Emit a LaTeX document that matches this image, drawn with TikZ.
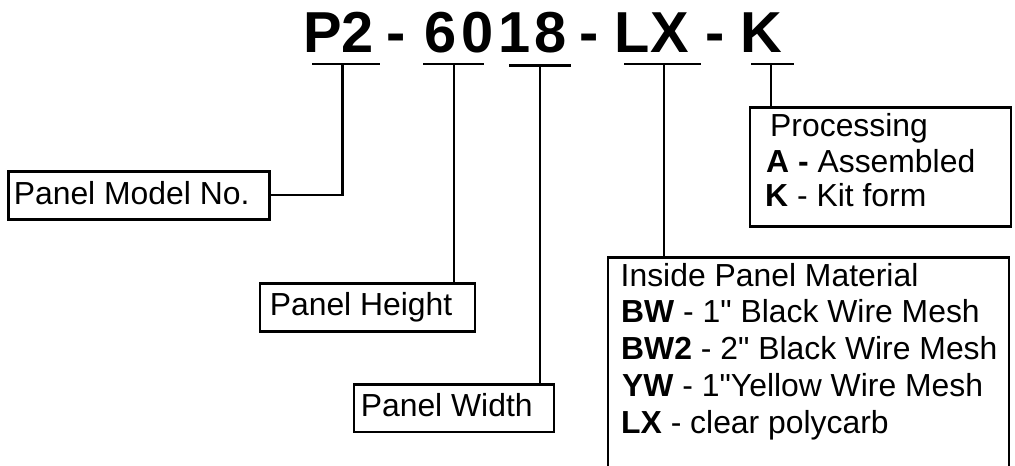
\documentclass[tikz,border=0pt]{standalone}
\usepackage{fontspec}
\setmainfont{Liberation Sans}
\begin{document}
\begin{tikzpicture}[x=1bp,y=-1bp,
  box/.style={draw, line width=2.8bp, inner sep=0, anchor=north west},
  conn/.style={line width=2.6bp},
  uline/.style={line width=2.4bp},
  big/.style={font=\fontsize{58}{60}\selectfont\bfseries, inner sep=0, anchor=base},
  txt/.style={font=\fontsize{32}{36}\selectfont, inner sep=0, anchor=base west}]
\useasboundingbox (0,0) rectangle (1015,466);

% title characters
\node[big] (cP) at (323,53) {P};
\node[big] (c2) at (358,53) {2};
\node[big] (d1) at (396,53) {-};
\node[big] (c6) at (441,53) {6};
\node[big] (c0) at (478,53) {0};
\node[big] (c1) at (515,53) {1};
\node[big] (c8) at (551,53) {8};
\node[big] (d2) at (589,53) {-};
\node[big] (cL) at (632,53) {L};
\node[big] (cX) at (670,53) {X};
\node[big] (d3) at (715,53) {-};
\node[big] (cK) at (761,53) {K};

% underlines
\coordinate (u1a) at (312,64); \coordinate (u1b) at (380,64);
\coordinate (u2a) at (423,64); \coordinate (u2b) at (484,64);
\coordinate (u3a) at (509,65.5); \coordinate (u3b) at (571,65.5);
\coordinate (u4a) at (624,64); \coordinate (u4b) at (701,64);
\coordinate (u5a) at (751,64); \coordinate (u5b) at (794,64);
\draw[uline] (u1a) -- (u1b);
\draw[uline] (u2a) -- (u2b);
\draw[uline] (u3a) -- (u3b);
\draw[uline] (u4a) -- (u4b);
\draw[uline] (u5a) -- (u5b);

% stem start points
\coordinate (s1) at (342.5,64);
\coordinate (s2) at (454,64);
\coordinate (s3) at (540,65.5);
\coordinate (s4) at (664,64);
\coordinate (s5) at (771,64);

% boxes
\node[box, minimum width=260.6bp, minimum height=48bp] (model) at (7.2,169.8) {};
\node[box, minimum width=215bp, minimum height=48bp] (hgt) at (258.5,282.5) {};
\node[box, minimum width=200bp, minimum height=47bp] (wid) at (352.5,383.5) {};
\node[box, minimum width=261bp, minimum height=119bp] (proc) at (748.5,106.5) {};
\node[box, minimum width=401bp, minimum height=230bp] (mat) at (606.5,256.5) {};

% connectors
\draw[conn] (s1) |- (model.east);
\draw[conn] (s2) -- (s2 |- hgt.north);
\draw[conn] (s3) -- (s3 |- wid.north);
\draw[conn] (s4) -- (s4 |- mat.north);
\draw[conn] (s5) -- (s5 |- proc.north);

% texts
\node[txt] (tmodel) at (13.6,205) {Panel Model No.};
\node[txt] (thgt) at (269.6,316) {Panel Height};
\node[txt] (twid) at (360.6,416) {Panel Width};

\node[txt] (tp0) at (770,137) {Processing};
\node[txt] (tp1) at (766,173) {\textbf{A -} Assembled};
\node[txt] (tp2) at (765,207) {\textbf{K} - Kit form};

\node[txt] (tm0) at (620.5,287) {Inside Panel Material};
\node[txt] (tm1) at (621,323) {\textbf{BW} - 1\textquotedbl{} Black Wire Mesh};
\node[txt] (tm2) at (621,360) {\textbf{BW2} - 2\textquotedbl{} Black Wire Mesh};
\node[txt] (tm3) at (622,397) {\textbf{YW} - 1\textquotedbl{}Yellow Wire Mesh};
\node[txt] (tm4) at (621,433) {\textbf{LX} - clear polycarb};
\end{tikzpicture}
\end{document}
